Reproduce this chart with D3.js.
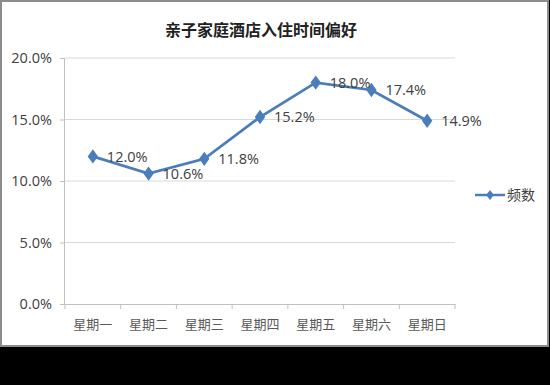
<!DOCTYPE html>
<html>
<head>
<meta charset="utf-8">
<script src="https://cdn.jsdelivr.net/npm/d3@7"></script>
<style>
  body { margin: 0; background: #000; }
  svg { display: block; }
</style>
</head>
<body>
<div id="chart"></div>
<script>
// data
const days = ["星期一", "星期二", "星期三", "星期四", "星期五", "星期六", "星期日"];
const freq = [12.0, 10.6, 11.8, 15.2, 18.0, 17.4, 14.9];
const yTicks = [0, 5, 10, 15, 20];
const seriesName = "频数";
const title = "亲子家庭酒店入住时间偏好";

const W = 550, H = 385;
const margin = { top: 58, right: 95, bottom: 81, left: 65 },
    width = W - margin.left - margin.right,
    height = H - margin.top - margin.bottom;

const root = d3.select("#chart")
    .append("svg")
    .attr("width", W)
    .attr("height", H);

// black page + white chart frame
root.append("rect").attr("width", W).attr("height", H).attr("fill", "#000");
root.append("rect")
    .attr("x", 1).attr("y", 1)
    .attr("width", 547).attr("height", 345)
    .attr("fill", "#fff")
    .attr("stroke", "#8c8c8c")
    .attr("stroke-width", 2);

root.append("text")
    .attr("x", 261).attr("y", 36)
    .attr("text-anchor", "middle")
    .style("font-family", "'Noto Sans CJK SC', sans-serif")
    .style("font-size", "16px")
    .style("font-weight", "bold")
    .attr("fill", "#222")
    .text(title);

const svg = root.append("g")
    .attr("transform", `translate(${margin.left},${margin.top})`);

const x = d3.scaleBand()
    .domain(days)
    .range([0, width]);

const y = d3.scaleLinear()
    .domain([0, 20])
    .range([height, 0]);

// gridlines
svg.append("g")
    .selectAll("line")
    .data(yTicks.slice(1))
    .enter().append("line")
    .attr("x1", 0).attr("x2", width)
    .attr("y1", d => y(d)).attr("y2", d => y(d))
    .attr("stroke", "#d9d9d9")
    .attr("stroke-width", 1);

// y axis
const yAxis = svg.append("g")
    .call(d3.axisLeft(y).tickValues(yTicks).tickSize(5).tickPadding(8)
        .tickFormat(d => d.toFixed(1) + "%"));
yAxis.select(".domain").attr("stroke", "#c0c0c0").attr("d", `M-0.5,${height}V0`);
yAxis.selectAll(".tick line").attr("stroke", "#c0c0c0");
yAxis.selectAll("text")
    .attr("fill", "#404040")
    .style("font-family", "'Open Sans', sans-serif")
    .style("font-size", "14.5px");

// x axis with ticks between categories
const xAxis = svg.append("g")
    .attr("transform", `translate(0,${height})`)
    .call(d3.axisBottom(x).tickSize(0).tickPadding(16).tickSizeOuter(0));
xAxis.select(".domain").attr("stroke", "#c0c0c0");
xAxis.selectAll("text")
    .attr("fill", "#595959")
    .style("font-family", "'Noto Sans CJK SC', sans-serif")
    .style("font-size", "13px");
xAxis.selectAll(".bnd")
    .data(d3.range(days.length + 1))
    .enter().append("line")
    .attr("class", "bnd")
    .attr("x1", i => i * x.step()).attr("x2", i => i * x.step())
    .attr("y1", 0).attr("y2", 5)
    .attr("stroke", "#c0c0c0");

const cx = (d, i) => x(days[i]) + x.bandwidth() / 2;
const blue = "#4a7ebb";

// line
const line = d3.line()
    .x((d, i) => cx(d, i))
    .y(d => y(d));

svg.append("path")
    .datum(freq)
    .attr("fill", "none")
    .attr("stroke", blue)
    .attr("stroke-width", 2.75)
    .attr("d", line);

// diamond markers
const diamond = d3.symbol().type(d3.symbolDiamond).size(60);
svg.append("g")
    .selectAll("path")
    .data(freq)
    .enter().append("path")
    .attr("d", diamond)
    .attr("transform", (d, i) => `translate(${cx(d, i)},${y(d)}) scale(1.25,1)`)
    .attr("fill", blue);

// data labels
svg.append("g")
    .selectAll("text")
    .data(freq)
    .enter().append("text")
    .attr("x", (d, i) => cx(d, i) + 14)
    .attr("y", d => y(d))
    .attr("dy", "0.36em")
    .attr("fill", "#404040")
    .style("font-family", "'Open Sans', sans-serif")
    .style("font-size", "14.5px")
    .text(d => d.toFixed(1) + "%");

// legend
const lg = root.append("g").attr("transform", "translate(475,195)");
lg.append("line")
    .attr("x1", 0).attr("x2", 30)
    .attr("stroke", blue).attr("stroke-width", 2.5);
lg.append("path")
    .attr("d", d3.symbol().type(d3.symbolDiamond).size(35))
    .attr("transform", "translate(15,0) scale(1.2,0.9)")
    .attr("fill", blue);
lg.append("text")
    .attr("x", 32).attr("dy", "0.36em")
    .attr("fill", "#404040")
    .style("font-family", "'Noto Sans CJK SC', sans-serif")
    .style("font-size", "14px")
    .text(seriesName);
</script>
</body>
</html>
